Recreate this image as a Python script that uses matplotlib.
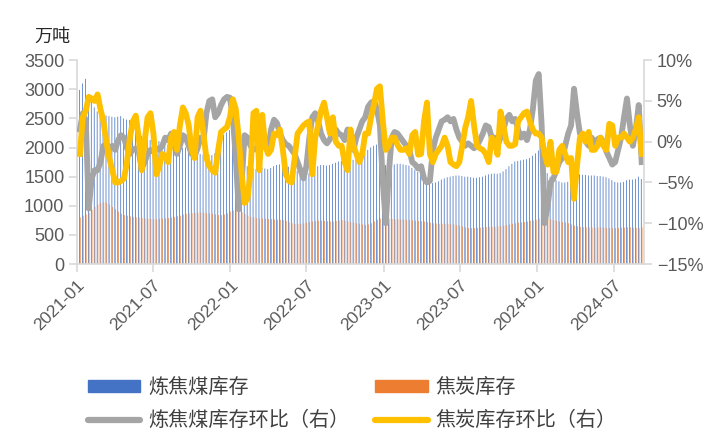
import matplotlib
matplotlib.use('Agg')
import matplotlib.pyplot as plt
import numpy as np
import pandas as pd
from matplotlib.ticker import FuncFormatter
from matplotlib.patches import Patch
from matplotlib.lines import Line2D

plt.rcParams['font.family'] = ['Liberation Sans', 'Noto Sans CJK SC']

# weekly data, 2021-01-08 .. 2024-09-06
dates = pd.date_range('2021-01-08', periods=192, freq='7D')

# 炼焦煤库存 (万吨)
coal_stock = [
    2990, 3100, 3180, 2920, 2790, 2690, 2620, 2590, 2560, 2550,
    2540, 2530, 2520, 2530, 2540, 2500, 2480, 2470, 2460, 2450,
    2440, 2200, 2160, 2150, 2130, 2110, 2100, 2110, 2080, 2060,
    2040, 2020, 2000, 1990, 1980, 1990, 2000, 1980, 1950, 1920,
    1900, 1890, 1880, 1900, 1880, 1870, 1900, 1980, 2100, 2220,
    2260, 2300, 2280, 2200, 1900, 1750, 1700, 1680, 1660, 1640,
    1630, 1640, 1650, 1640, 1630, 1650, 1680, 1700, 1710, 1700,
    1690, 1670, 1650, 1620, 1600, 1560, 1540, 1540, 1560, 1600,
    1650, 1680, 1700, 1700, 1690, 1700, 1720, 1740, 1760, 1770,
    1780, 1800, 1800, 1790, 1800, 1830, 1870, 1900, 1960, 2000,
    2030, 2050, 2050, 1980, 1700, 1680, 1700, 1710, 1720, 1720,
    1710, 1700, 1690, 1650, 1620, 1580, 1540, 1480, 1420, 1400,
    1390, 1400, 1420, 1450, 1470, 1490, 1500, 1510, 1520, 1520,
    1510, 1500, 1500, 1490, 1480, 1480, 1490, 1500, 1520, 1540,
    1550, 1555, 1550, 1560, 1590, 1630, 1680, 1720, 1760, 1770,
    1780, 1790, 1800, 1820, 1860, 1900, 1950, 1900, 1700, 1560,
    1500, 1460, 1440, 1420, 1400, 1400, 1410, 1430, 1520, 1540,
    1540, 1530, 1530, 1520, 1520, 1520, 1510, 1510, 1500, 1490,
    1470, 1440, 1410, 1400, 1400, 1410, 1440, 1450, 1450, 1460,
    1500, 1460,
]

# 焦炭库存 (万吨)
coke_stock = [
    800, 830, 850, 880, 930, 980, 1020, 1050, 1060, 1050,
    1020, 980, 940, 900, 860, 840, 830, 820, 810, 800,
    800, 790, 785, 780, 775, 770, 770, 775, 780, 785,
    790, 800, 810, 820, 830, 850, 860, 870, 875, 880,
    880, 885, 880, 875, 870, 865, 850, 840, 840, 850,
    870, 900, 920, 920, 910, 890, 860, 830, 810, 800,
    790, 780, 780, 775, 770, 770, 765, 760, 760, 755,
    740, 720, 700, 690, 690, 690, 700, 710, 720, 730,
    740, 745, 745, 740, 735, 730, 730, 740, 750, 755,
    745, 730, 720, 710, 700, 690, 680, 670, 680, 700,
    730, 760, 780, 790, 790, 780, 775, 770, 770, 765,
    760, 760, 755, 750, 745, 740, 735, 730, 720, 710,
    700, 695, 690, 690, 690, 690, 685, 680, 670, 660,
    645, 630, 620, 615, 615, 620, 625, 630, 635, 640,
    640, 640, 645, 650, 660, 670, 680, 690, 700, 710,
    715, 720, 730, 740, 750, 760, 780, 790, 790, 780,
    770, 750, 740, 730, 720, 710, 700, 680, 660, 650,
    640, 635, 630, 630, 625, 625, 630, 630, 625, 620,
    620, 615, 615, 620, 625, 625, 630, 630, 625, 620,
    620, 630,
]

# 炼焦煤库存环比 (%)
coal_wow = [
    1.5, 3.5, 2.6, -8.2, -4.5, -3.5, -3.5, -2.5, -0.5, -0.4,
    -0.8, -0.5, -1.0, 0.2, 0.8, 0.5, -0.8, -1.5, -1.0, -0.8,
    -1.2, -3.3, -2.5, -1.5, -1.0, -1.2, -0.8, -1.0, -0.5, 0.5,
    0.2, 1.0, -0.3, -1.5, -0.5, 0.8, 0.5, -0.5, -1.5, -1.8,
    -0.8, 0.5, 0.0, 3.5, 5.0, 5.2, 3.0, 3.5, 4.5, 5.2,
    5.5, 5.4, 3.0, -2.0, -8.3, -5.0, 0.8, 0.5, -0.5, -1.0,
    -0.8, -0.2, 0.5, -0.5, -1.0, 1.5, 2.7, 2.3, 1.0, 0.2,
    -0.3, -0.5, -1.0, -1.5, -2.5, -3.5, -4.5, -3.0, 0.5, 3.0,
    3.5, 2.5, 1.0, 0.2, -0.2, 0.3, 1.2, 1.5, 1.0, 0.8,
    0.2, 1.5, 0.0, -1.0, 0.5, 1.5, 2.5, 3.0, 4.3, 4.8,
    5.0, 4.0, 2.0, -5.0, -10.0, -4.0, 0.5, 1.2, 1.0, 0.5,
    0.0, -0.5, -1.0, -2.5, -2.8, -3.3, -3.0, -4.5, -5.0, -4.8,
    -1.0, 0.5, 1.5, 2.5, 2.7, 3.0, 2.5, 2.8, 1.5, 0.5,
    0.0, -0.5, -0.2, -0.5, -0.8, -0.5, 0.2, 1.0, 2.0, 1.8,
    0.5, 0.5, -0.5, 0.5, 1.5, 2.8, 3.3, 2.5, 2.8, 1.5,
    0.5, 1.0, 0.2, 1.5, 4.0, 7.5, 8.3, 2.0, -10.0, -8.0,
    -5.0, -4.5, -3.5, -2.5, -2.0, -0.5, 1.0, 2.0, 6.5, 3.5,
    1.0, 0.5, 0.0, -0.5, 0.5, -0.2, 0.3, 0.5, 0.0, -1.2,
    -2.0, -2.8, -2.5, -1.0, 0.5, 3.0, 5.3, 2.0, -0.5, 1.5,
    4.5, -2.5,
]

# 焦炭库存环比 (%)
coke_wow = [
    -1.5, 3.0, 3.8, 5.5, 5.3, 5.0, 5.8, 4.0, 2.5, 0.0,
    -2.0, -3.5, -5.0, -5.0, -4.8, -4.5, -2.5, 0.5, 2.5, 3.2,
    0.5, -3.5, 0.0, 3.0, 3.5, 1.0, -4.0, -3.0, -1.5, -1.8,
    -2.5, 0.5, 1.2, -1.0, 2.0, 4.2, 3.5, 2.0, -1.0, -2.0,
    3.0, 3.8, 1.0, -2.0, -3.0, -3.5, -3.8, -1.0, 1.2, 1.5,
    1.8, 3.0, 5.2, 4.0, 0.5, -4.0, -7.5, -7.0, -3.7, 3.5,
    3.8, -3.5, 3.3, -0.5, -1.5, -1.0, 1.0, 0.8, 1.5, -1.0,
    -4.0, -4.8, -5.0, -2.0, 1.0, 1.5, 2.0, 2.3, 2.5, -4.0,
    0.5, 2.0, 3.8, 4.8, 3.0, 1.0, 3.0, 0.0, -0.5, -0.5,
    -2.5, -3.5, 1.5, -0.5, -1.5, -2.5, -1.5, 1.0, 1.0, 3.0,
    4.6, 6.5, 6.8, 2.5, -1.0, -0.5, 0.5, 0.5, -0.4, -1.0,
    -1.0, -0.8, -1.5, 0.8, 1.2, -1.6, -1.5, 2.5, 4.8, -1.5,
    -2.5, -1.5, -1.0, -0.5, 0.5, -0.5, -2.5, -2.8, -3.0, -2.5,
    -0.5, 1.7, 3.0, 5.0, 2.0, -0.5, -0.8, -1.0, -1.5, -2.5,
    0.5, 0.0, -1.6, 3.7, 2.0, 0.0, -0.5, -0.5, -0.3, 2.5,
    3.0, 3.5, 3.7, 2.5, 1.5, 1.0, 1.0, 0.5, -1.5, -2.8,
    0.0, -3.7, -3.7, -1.0, -0.5, -1.5, -2.5, -2.0, -7.0, -3.0,
    0.5, 1.0, 0.0, 1.2, -1.0, -1.0, -0.5, 0.5, -0.5, -1.0,
    2.2, 2.0, -0.5, 0.5, 0.5, 1.0, 0.5, 0.0, 0.5, 1.5,
    3.0, -1.5,
]

tick_dates = pd.to_datetime(['2021-01-01', '2021-07-01', '2022-01-01', '2022-07-01',
                             '2023-01-01', '2023-07-01', '2024-01-01', '2024-07-01'])
tick_labels = ['2021-01', '2021-07', '2022-01', '2022-07',
               '2023-01', '2023-07', '2024-01', '2024-07']

c_blue, c_orange, c_gray, c_yellow = '#4472C4', '#ED7D31', '#A5A5A5', '#FFC000'
axis_col, text_col = '#D9D9D9', '#595959'

fig = plt.figure(figsize=(7.18, 4.3), dpi=100)
ax = fig.add_axes([0.1072, 0.386, 0.79, 0.474])
ax2 = ax.twinx()

off = pd.Timedelta(days=0.9)
ax.bar(dates - off, coal_stock, width=1.8, color=c_blue, linewidth=0, snap=False)
ax.bar(dates + off, coke_stock, width=1.6, color=c_orange, linewidth=0, snap=False)

ax2.plot(dates, coal_wow, color=c_gray, lw=4.2)
ax2.plot(dates, coke_wow, color=c_yellow, lw=4.2)

ax.set_xlim(pd.Timestamp('2021-01-01'), pd.Timestamp('2024-09-12'))
ax.set_ylim(0, 3500)
ax.set_yticks(np.arange(0, 3501, 500))
ax2.set_ylim(-15, 10)
ax2.set_yticks(np.arange(-15, 11, 5))
ax2.yaxis.set_major_formatter(FuncFormatter(lambda v, p: f'{v:.0f}%'.replace('-', '\u2212')))

ax.set_xticks(tick_dates)
ax.set_xticklabels(tick_labels, rotation=45, ha='right', rotation_mode='anchor')

for a in (ax, ax2):
    a.spines['top'].set_visible(False)
    for s in a.spines.values():
        s.set_color(axis_col)
        s.set_linewidth(1.2)
ax.spines['right'].set_visible(False)
ax2.spines['left'].set_visible(False)
ax2.spines['bottom'].set_visible(False)

ax.tick_params(axis='y', length=6, width=1.2, color=axis_col, labelcolor=text_col,
               labelsize=13, pad=3)
ax.tick_params(axis='x', length=6, width=1.2, color=axis_col, labelcolor=text_col,
               labelsize=12.5, pad=4)
ax2.tick_params(axis='y', length=6, width=1.2, color=axis_col, labelcolor=text_col,
                labelsize=13, pad=3)

fig.text(0.048, 0.914, '万吨', fontsize=13, family=['Noto Sans CJK SC'],
         color='#262626', va='center')

handles = [
    Patch(color=c_blue, label='炼焦煤库存'),
    Line2D([], [], color=c_gray, lw=4.5, solid_capstyle='round', label='炼焦煤库存环比（右）'),
    Patch(color=c_orange, label='焦炭库存'),
    Line2D([], [], color=c_yellow, lw=4.5, solid_capstyle='round', label='焦炭库存环比（右）'),
]
leg = fig.legend(handles=handles, loc='upper left', bbox_to_anchor=(0.108, 0.147), ncol=2,
                 frameon=False, prop={'family': ['Noto Sans CJK SC'], 'size': 14.5},
                 handlelength=2.6, handleheight=0.55, handletextpad=0.4,
                 columnspacing=1.3, labelspacing=0.62, borderpad=0)
for t in leg.get_texts():
    t.set_color('#404040')

fig.savefig('out.png', dpi=100)
